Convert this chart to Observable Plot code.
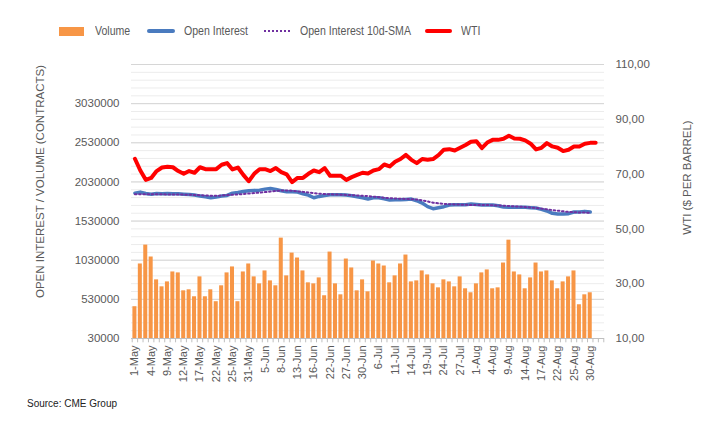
<!DOCTYPE html>
<html><head><meta charset="utf-8">
<script src="https://cdn.jsdelivr.net/npm/d3@7"></script>
<script src="https://cdn.jsdelivr.net/npm/@observablehq/plot@0.6"></script>
<style>
body{margin:0;background:#fff;font-family:"Liberation Sans",Arial,sans-serif;}
#wrap{position:relative;width:715px;height:426px;overflow:hidden;}
#wrap svg{position:absolute;left:0;top:0;}
.lt{position:absolute;top:23px;line-height:16px;font-size:12px;color:#595959;white-space:nowrap;transform:scaleX(0.88);transform-origin:left center;}
.sw{position:absolute;}
#src{position:absolute;left:27px;top:398px;font-size:10px;color:#222;}
</style></head><body>
<div id="wrap">
  <div class="sw" style="left:59px;top:27px;width:25px;height:9px;background:#f79646"></div>
  <div class="lt" style="left:95px">Volume</div>
  <div class="sw" style="left:147px;top:29px;width:28px;height:4px;border-radius:2px;background:#4a7bbf"></div>
  <div class="lt" style="left:184px">Open Interest</div>
  <div class="sw" style="left:264px;top:30px;width:26px;height:0;border-top:2px dotted #7030a0"></div>
  <div class="lt" style="left:300px">Open Interest 10d-SMA</div>
  <div class="sw" style="left:425px;top:29px;width:27px;height:4px;border-radius:2px;background:#ff0000"></div>
  <div class="lt" style="left:461px">WTI</div>
  <div id="src">Source: CME Group</div>
</div>
<script>
const dates = ["1-May","2-May","3-May","4-May","5-May","8-May","9-May","10-May","11-May","12-May","15-May","16-May","17-May","18-May","19-May","22-May","23-May","24-May","25-May","26-May","30-May","31-May",
"1-Jun","2-Jun","5-Jun","6-Jun","7-Jun","8-Jun","9-Jun","12-Jun","13-Jun","14-Jun","15-Jun","16-Jun","20-Jun","21-Jun","22-Jun","23-Jun","26-Jun","27-Jun","28-Jun","29-Jun","30-Jun",
"3-Jul","5-Jul","6-Jul","7-Jul","10-Jul","11-Jul","12-Jul","13-Jul","14-Jul","17-Jul","18-Jul","19-Jul","20-Jul","21-Jul","24-Jul","25-Jul","26-Jul","27-Jul","28-Jul","31-Jul",
"1-Aug","2-Aug","3-Aug","4-Aug","7-Aug","8-Aug","9-Aug","10-Aug","11-Aug","14-Aug","15-Aug","16-Aug","17-Aug","18-Aug","21-Aug","22-Aug","23-Aug","24-Aug","25-Aug","28-Aug","29-Aug","30-Aug","31-Aug","1-Sep"];

const tickLabels = ["1-May","4-May","9-May","12-May","17-May","22-May","25-May","31-May","5-Jun","8-Jun","13-Jun","16-Jun","22-Jun","27-Jun","30-Jun","6-Jul","11-Jul","14-Jul","19-Jul","24-Jul","27-Jul","1-Aug","4-Aug","9-Aug","14-Aug","17-Aug","22-Aug","25-Aug","30-Aug"];

const volume = [436000,982000,1223000,1071000,779000,690000,753000,880000,868000,639000,652000,563000,817000,563000,652000,500000,703000,868000,944000,500000,880000,982000,817000,728000,893000,766000,703000,1312000,830000,1121000,1058000,893000,741000,728000,804000,576000,1134000,728000,588000,1045000,931000,639000,779000,626000,
1020000,982000,956000,741000,830000,982000,1096000,753000,766000,893000,842000,728000,677000,779000,753000,690000,817000,665000,614000,728000,868000,906000,665000,677000,994000,1286000,880000,842000,665000,804000,994000,880000,893000,766000,665000,753000,817000,893000,461000,588000,614000];

const openInterest = [1887000,1900000,1883000,1874000,1883000,1879000,1883000,1879000,1879000,1874000,1870000,1862000,1849000,1840000,1828000,1836000,1849000,1857000,1887000,1895000,1908000,1917000,1921000,1925000,1938000,1946000,1934000,1917000,1904000,1904000,1900000,1879000,1862000,1828000,1845000,1857000,1866000,1866000,1866000,1862000,1853000,1840000,1828000,1813000,
1828000,1828000,1815000,1798000,1802000,1802000,1807000,1811000,1790000,1760000,1714000,1688000,1701000,1714000,1735000,1739000,1739000,1739000,1747000,1743000,1735000,1735000,1735000,1726000,1709000,1705000,1705000,1705000,1705000,1701000,1697000,1680000,1659000,1629000,1620000,1620000,1625000,1646000,1646000,1654000,1646000];

const oiSma10 = [1874000,1874000,1872000,1872000,1872000,1872000,1870000,1870000,1870000,1868000,1866000,1864000,1860000,1857000,1853000,1853000,1857000,1862000,1866000,1870000,1876000,1882000,1888000,1893000,1900000,1908000,1914000,1920000,1921000,1918000,1910000,1903000,1895000,1887000,1880000,1875000,1872000,1870000,1866000,1864000,1862000,1858000,1853000,1849000,1842000,1835000,1828000,1823000,1819000,1815000,1812000,1809000,1806000,1795000,1780000,1765000,1756000,1750000,1746000,1743000,1740000,1738000,1735000,1735000,1735000,1735000,1732000,1729000,1726000,1722000,1718000,1714000,1709000,1703000,1697000,1689000,1680000,1671000,1663000,1655000,1647000,1643000,1640000,1638000,1637000];

const wti = [75.6,71.3,67.9,68.6,71.1,72.4,72.7,72.5,71.1,70.1,71.1,70.5,72.5,71.8,71.8,71.8,73.4,74.0,71.7,72.4,69.7,67.4,70.1,71.8,71.8,71.1,72.2,70.7,69.9,67.1,68.6,68.6,70.1,71.3,70.7,72.2,69.4,69.4,69.4,67.9,68.9,69.7,70.5,70.2,
71.3,71.8,73.5,72.8,74.5,75.5,77.0,75.2,74.0,75.5,75.2,75.5,76.9,78.9,79.1,78.6,79.6,80.6,81.8,82.0,79.5,81.5,82.5,82.5,82.9,84.0,83.0,82.9,82.3,81.1,79.0,79.6,81.3,80.1,79.6,78.4,78.9,80.1,80.1,81.1,81.4,81.4];

const leftTicks = [30000,530000,1030000,1530000,2030000,2530000,3030000,3530000];
const leftTickLabels = ["30000","530000","1030000","1530000","2030000","2530000","3030000",""];
const rightTicks = [10,30,50,70,90,110];
const rightTickLabels = ["10,00","30,00","50,00","70,00","90,00","110,00"];
const minorGrid = d3.range(30000, 3530001, 100000);

const W = 715, H = 426, ML = 131, MR = 111, MT = 64, MB = 88;
const pad = 0.26;
const step = (W - ML - MR) / (dates.length - pad + 2 * pad);

const wtiToLeft = d3.scaleLinear().domain([10, 110]).range([30000, 3530000]);

const volData = volume.map((v, i) => ({date: dates[i], v}));
const oiData = openInterest.map((v, i) => ({date: dates[i], v}));
const smaData = oiSma10.map((v, i) => ({date: dates[i], v}));
const wtiData = wti.map((v, i) => ({date: dates[i], v: wtiToLeft(v)}));

const font = "Liberation Sans, Arial, sans-serif";
const grey = "#595959";

const chart = Plot.plot({
  width: W, height: H,
  marginTop: MT, marginBottom: MB, marginLeft: ML, marginRight: MR,
  style: {fontFamily: font, fontSize: "11px", color: grey, background: "transparent", overflow: "visible"},
  x: {type: "band", domain: dates, padding: pad, axis: null, label: null},
  y: {domain: [30000, 3530000], axis: null, label: null},
  marks: [
    Plot.ruleY(minorGrid, {stroke: "#ececec", strokeWidth: 1}),
    Plot.ruleY(leftTicks, {stroke: "#d6d6d6", strokeWidth: 1}),
    Plot.barY(volData, {x: "date", y1: 30000, y2: "v", fill: "#f79646"}),
    Plot.ruleY([30000], {stroke: "#bfbfbf", strokeWidth: 1}),
    Plot.ruleX(dates, {x: d => d, y1: 30000, y2: -25000, dx: -step / 2, stroke: "#bfbfbf"}),
    Plot.ruleX([dates[dates.length - 1]], {x: d => d, y1: 30000, y2: -25000, dx: step / 2, stroke: "#bfbfbf"}),
    Plot.line(oiData, {x: "date", y: "v", stroke: "#4a7bbf", strokeWidth: 3.5, strokeLinejoin: "round", strokeLinecap: "round"}),
    Plot.line(smaData, {x: "date", y: "v", stroke: "#7030a0", strokeWidth: 2, strokeDasharray: "1.6,2.6"}),
    Plot.line(wtiData, {x: "date", y: "v", stroke: "#ff0000", strokeWidth: 4, strokeLinejoin: "round", strokeLinecap: "round"}),
    Plot.axisX({ticks: tickLabels, tickRotate: -90, tickSize: 0, tickPadding: 7, fontSize: 11, fill: grey, label: null}),
    Plot.axisY({anchor: "left", ticks: leftTicks, tickSize: 0, tickPadding: 12, fontSize: 11.5, fill: grey,
      tickFormat: d => leftTickLabels[leftTicks.indexOf(d)], label: null}),
    Plot.axisY({anchor: "right", ticks: rightTicks.map(wtiToLeft), tickSize: 0, tickPadding: 11, fontSize: 11.5, fill: grey,
      tickFormat: (d, i) => rightTickLabels[i], label: null}),
    Plot.text(["OPEN INTEREST / VOLUME (CONTRACTS)"], {frameAnchor: "left", textAnchor: "middle", dx: -91, dy: -20, rotate: -90, fontSize: 11.5, fill: grey}),
    Plot.text(["WTI ($ PER BARREL)"], {frameAnchor: "right", textAnchor: "middle", dx: 83, dy: -24, rotate: -90, fontSize: 11.5, fill: grey})
  ]
});
document.getElementById("wrap").prepend(chart);
</script>
</body></html>
